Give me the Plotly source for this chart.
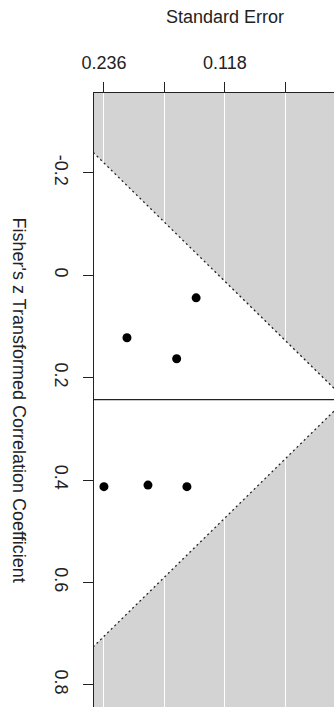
import plotly.graph_objects as go

# ---- data ----
std_error = [0.146, 0.2135, 0.165, 0.236, 0.193, 0.155]
fisher_z = [0.044, 0.122, 0.163, 0.413, 0.410, 0.413]
pooled_estimate = 0.243
se_tick_values = [0.236, 0.177, 0.118, 0.059, 0.0]
se_tick_labels = ["0.236", "", "0.118", "", "0"]
z_tick_values = [-0.2, 0.0, 0.2, 0.4, 0.6, 0.8]
z_tick_labels = ["-0.2", "0", "0.2", "0.4", "0.6", "0.8"]

FONT = "Liberation Sans, Arial, Helvetica, sans-serif"
W, H = 334, 710
L, R, T, B = 94, 0, 93, 3
PW, PH = W - L - R, H - T - B

# funnel limits (95% pseudo confidence region), drawn past the axis range and clipped
se_far = 0.4
z_crit = 1.96
funnel_x = [se_far, 0.0, se_far]
funnel_y = [pooled_estimate - z_crit * se_far, pooled_estimate, pooled_estimate + z_crit * se_far]

fig = go.Figure()

# white funnel region on grey background
fig.add_trace(go.Scatter(
    x=funnel_x + [funnel_x[0]], y=funnel_y + [funnel_y[0]],
    mode="lines", fill="toself", fillcolor="white",
    line=dict(width=0, color="white"), hoverinfo="skip", showlegend=False))

# dotted funnel boundaries
fig.add_trace(go.Scatter(
    x=[funnel_x[0], funnel_x[1], funnel_x[2]],
    y=[funnel_y[0], funnel_y[1], funnel_y[2]],
    mode="lines", line=dict(color="#222222", width=1.3, dash="2px,3px"),
    hoverinfo="skip", showlegend=False))

# studies
fig.add_trace(go.Scatter(
    x=std_error, y=fisher_z, mode="markers",
    marker=dict(color="black", size=9), showlegend=False))

# reference line at pooled estimate
fig.add_shape(type="line", xref="paper", x0=0, x1=1, yref="y",
              y0=pooled_estimate, y1=pooled_estimate,
              line=dict(color="#222222", width=1.2))

fig.update_xaxes(
    side="top", range=[0.2457, 0.0114],
    tickvals=se_tick_values, ticktext=se_tick_labels,
    ticks="outside", ticklen=10, tickwidth=1.2, tickcolor="#222222",
    showline=True, linecolor="#222222", linewidth=1.2,
    showgrid=True, gridcolor="white", gridwidth=1.2,
    zeroline=False, ticklabelstandoff=6,
    tickfont=dict(family=FONT, size=18, color="#222222"))

fig.update_yaxes(
    range=[0.8436, -0.3563],
    tickvals=z_tick_values, ticktext=z_tick_labels, tickangle=90,
    ticks="outside", ticklen=10, tickwidth=1.2, tickcolor="#222222",
    showline=True, linecolor="#222222", linewidth=1.2,
    showgrid=False, zeroline=False, ticklabelstandoff=6,
    tickfont=dict(family=FONT, size=18, color="#222222"))

fig.add_annotation(text="Standard Error", xref="paper", yref="paper",
                   x=(224.7 - L) / PW, y=1 + (T - 17) / PH,
                   xanchor="center", yanchor="middle", showarrow=False,
                   font=dict(family=FONT, size=18, color="#222222"))
fig.add_annotation(text="Fisher's z Transformed Correlation Coefficient",
                   xref="paper", yref="paper",
                   x=(18.5 - L) / PW, y=(H - B - 400) / PH,
                   xanchor="center", yanchor="middle", textangle=90,
                   showarrow=False,
                   font=dict(family=FONT, size=18, color="#222222"))

fig.update_layout(
    width=W, height=H,
    margin=dict(l=L, r=R, t=T, b=B, pad=0),
    plot_bgcolor="#D3D3D3", paper_bgcolor="white",
    showlegend=False)

fig.write_html("out.html", config={"displayModeBar": False})
